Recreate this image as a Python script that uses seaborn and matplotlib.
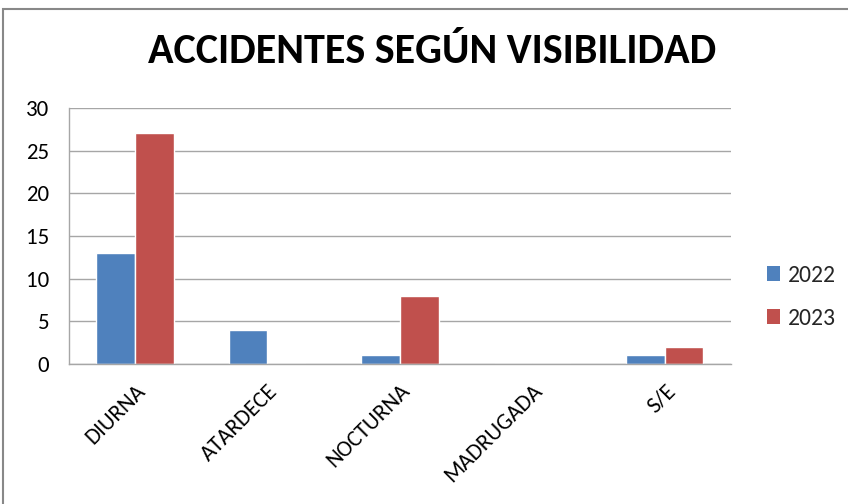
import pandas as pd
import matplotlib
matplotlib.use("Agg")
import matplotlib.pyplot as plt
import seaborn as sns
from matplotlib import font_manager
from matplotlib.patches import Rectangle, Patch

# Data
categories = ["DIURNA", "ATARDECE", "NOCTURNA", "MADRUGADA", "S/E"]
values_2022 = [13, 4, 1, 0, 1]
values_2023 = [27, 0, 8, 0, 2]
years = ["2022", "2023"]
colors = ["#4F81BD", "#C0504D"]

df = pd.DataFrame({
    "categoria": categories * 2,
    "valor": values_2022 + values_2023,
    "año": [years[0]] * len(categories) + [years[1]] * len(categories),
})

sns.set_theme(style="white")
available = {f.name for f in font_manager.fontManager.ttflist}
font = next((f for f in ["Carlito", "Liberation Sans Narrow", "Open Sans"] if f in available), "DejaVu Sans")
plt.rcParams["font.family"] = [font, "DejaVu Sans"]

fig = plt.figure(figsize=(8.48, 5.04), dpi=100)
ax = fig.add_axes([0.081, 0.278, 0.781, 0.508])

sns.barplot(data=df, x="categoria", y="valor", hue="año", palette=colors,
            width=0.585, gap=0, ax=ax, legend=False, saturation=1)

ax.set_ylim(0, 30)
ax.set_yticks(range(0, 31, 5))
ax.set_xlim(-0.5, len(categories) - 0.5)
ax.yaxis.grid(True, color="#A6A6A6", linewidth=1)
ax.set_axisbelow(True)
for side in ["top", "right"]:
    ax.spines[side].set_visible(False)
for side in ["left", "bottom"]:
    ax.spines[side].set_color("#A6A6A6")
    ax.spines[side].set_linewidth(1)
ax.set_xlabel("")
ax.set_ylabel("")
ax.tick_params(axis="y", labelsize=16.5, colors="#000000", pad=14, length=0)
ax.tick_params(axis="x", labelsize=16.5, colors="#000000", length=0, pad=12)
plt.setp(ax.get_xticklabels(), rotation=45, ha="right", rotation_mode="anchor")

fig.text(0.51, 0.897, "ACCIDENTES SEGÚN VISIBILIDAD", ha="center", va="center",
         fontsize=30.3, fontweight="bold", color="#000000")

handles = [Patch(facecolor=c, edgecolor="none") for c in colors]
fig.legend(handles, years, loc="center left", bbox_to_anchor=(0.904, 0.411),
           frameon=False, fontsize=17, handlelength=0.55, handleheight=0.6,
           handletextpad=0.35, labelspacing=0.95, borderaxespad=0, borderpad=0)

# Chart frame (cut at right and bottom)
fig.patches.append(Rectangle((3 / 848, -0.05), 1.0, 1 - 9 / 504 + 0.05,
                             transform=fig.transFigure, fill=False,
                             edgecolor="#888888", linewidth=1.5))

fig.savefig("out.png", dpi=100)
